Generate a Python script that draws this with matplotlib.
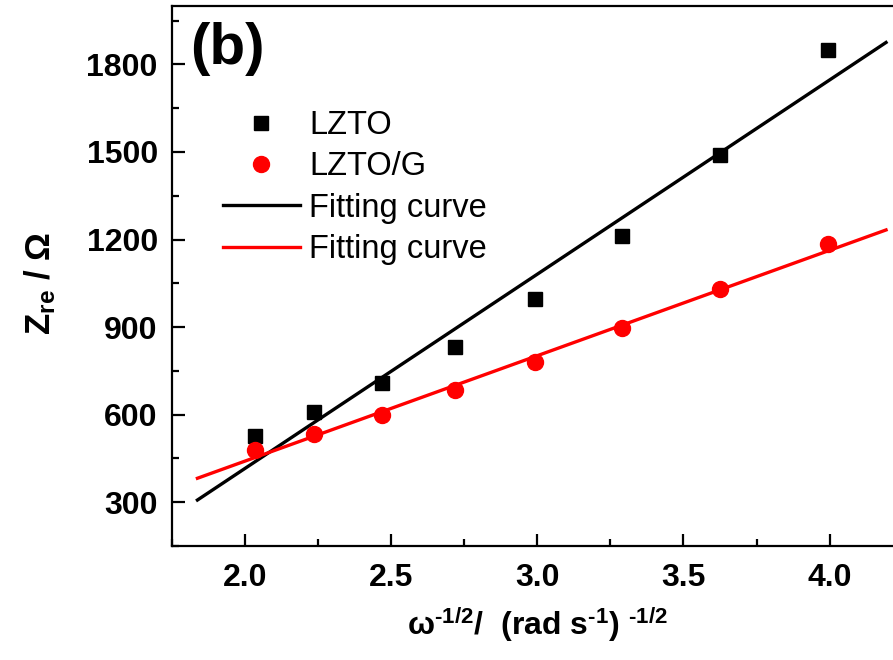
import numpy as np
import matplotlib
matplotlib.use("Agg")
import matplotlib.pyplot as plt

# ---- data ----
x_vals = [2.035, 2.237, 2.469, 2.720, 2.991, 3.291, 3.624, 3.995]
lzto = [528, 608, 708, 831, 996, 1212, 1490, 1850]
lzto_g = [480, 533, 600, 683, 779, 896, 1029, 1184]
fit_range = [1.838, 4.193]
x_ticks = [2.0, 2.5, 3.0, 3.5, 4.0]
y_ticks = [300, 600, 900, 1200, 1500, 1800]

plt.rcParams['font.family'] = ['Liberation Sans', 'DejaVu Sans']
plt.rcParams['mathtext.fontset'] = 'custom'
plt.rcParams['mathtext.rm'] = 'Liberation Sans'
plt.rcParams['mathtext.bf'] = 'Liberation Sans:bold'
plt.rcParams['mathtext.it'] = 'Liberation Sans:italic'

W, H = 893, 660
fig = plt.figure(figsize=(W / 100, H / 100), dpi=100)
# axes box in pixels: left 171.7, right ~902.7 (cropped), top 6, bottom 546
l, r, t, b = 171.7, 902.7, 6, 546
ax = fig.add_axes([l / W, 1 - b / H, (r - l) / W, (b - t) / H])

x = np.array(x_vals)
fx = np.linspace(fit_range[0], fit_range[1], 50)
p1 = np.polyfit(x, lzto, 1)
p2 = np.polyfit(x, lzto_g, 1)

ax.plot(x, lzto, 's', color='black', markersize=10, label='LZTO', zorder=3)
ax.plot(x, lzto_g, 'o', color='#ff0000', markersize=11.5, label='LZTO/G', zorder=3)
ax.plot(fx, np.polyval(p1, fx), '-', color='black', lw=2.4, label='Fitting curve')
ax.plot(fx, np.polyval(p2, fx), '-', color='#ff0000', lw=2.4, label='Fitting curve')

ax.set_xlim(1.75, 4.25)
ax.set_ylim(200, 2000)
ax.set_xticks(x_ticks)
ax.set_xticklabels([f"{v:.1f}" for v in x_ticks])
ax.set_yticks(y_ticks)
ax.set_yticklabels([str(v) for v in y_ticks])
ax.set_xticks(np.arange(1.75, 4.26, 0.25), minor=True)
ax.set_yticks(np.arange(150, 2001, 150), minor=True)

for s in ax.spines.values():
    s.set_linewidth(1.6)
ax.tick_params(which='major', direction='in', length=9, width=1.6,
               labelsize=23)
ax.tick_params(which='minor', direction='in', length=5, width=1.6)
ax.tick_params(axis='y', pad=10)
ax.tick_params(axis='x', pad=12)
for lab in ax.get_xticklabels() + ax.get_yticklabels():
    lab.set_fontweight('bold')

ax.set_ylabel(r'$\mathbf{Z_{re}}$ / $\mathbf{\Omega}$', fontsize=25,
              fontweight='bold')
ax.yaxis.set_label_coords((58 - l) / (r - l), 1 - (284 - t) / (b - t))
ax.set_xlabel('$\\mathbf{\\omega}^{\\mathbf{\u20101/2}}$/  (rad s$^{\\mathbf{\u20101}}$) $^{\\mathbf{\u20101/2}}$',
              fontsize=23, fontweight='bold', labelpad=9)

ax.text(0.025, 0.97, '(b)', transform=ax.transAxes, fontsize=42,
        fontweight='bold', va='top', ha='left')

leg = ax.legend(loc='upper left', bbox_to_anchor=((223 - l) / (r - l), 1 - (110 - t) / (b - t)),
                frameon=False, fontsize=23.5, handlelength=2.35, handletextpad=0.3,
                labelspacing=0.32, borderpad=0, borderaxespad=0, numpoints=1)

fig.savefig('out.png', dpi=100)
